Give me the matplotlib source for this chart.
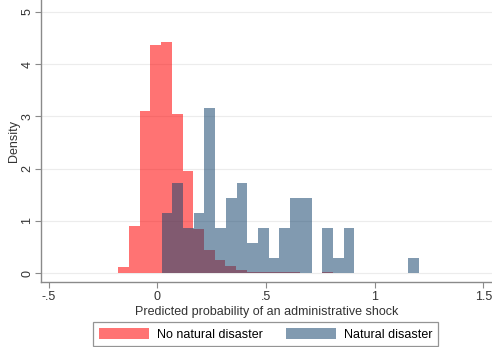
import numpy as np
import matplotlib.pyplot as plt
from matplotlib.patches import Patch

plt.rcParams['font.family'] = ['Liberation Sans', 'DejaVu Sans']

# histogram densities
bin_width = 0.0493
no_disaster_start = -0.180
no_disaster = [0.11, 0.90, 3.10, 4.36, 4.42, 3.04, 1.95, 0.84, 0.45, 0.25,
               0.13, 0.06, 0.03, 0.03, 0.02, 0.03, 0.02, 0.0, 0.0, 0.02]
disaster_start = 0.019
disaster = [1.15, 1.72, 0.86, 1.15, 3.16, 0.86, 1.43, 1.72, 0.57, 0.86,
            0.29, 0.86, 1.43, 1.43, 0.0, 0.86, 0.29, 0.86, 0.0, 0.0,
            0.0, 0.0, 0.0, 0.29]

x_ticks = [-0.5, 0, 0.5, 1, 1.5]
x_tick_labels = ['-.5', '0', '.5', '1', '1.5']
y_ticks = [0, 1, 2, 3, 4, 5]

red = '#ff0000'
navy = '#1a476f'

fig = plt.figure(figsize=(4.92, 3.47), dpi=100)
ax = fig.add_axes([0.0833, 0.1873, 0.9167, 0.8127])

red_edges = no_disaster_start + bin_width * np.arange(len(no_disaster))
blue_edges = disaster_start + bin_width * np.arange(len(disaster))
ax.bar(red_edges, no_disaster, width=bin_width, align='edge', color=red, alpha=0.55, linewidth=0)
ax.bar(blue_edges, disaster, width=bin_width, align='edge', color=navy, alpha=0.55, linewidth=0)

ax.set_xlim(-0.536, 1.54)
ax.set_ylim(-0.17, 5.23)
ax.set_xticks(x_ticks)
ax.set_xticklabels(x_tick_labels)
ax.set_yticks(y_ticks)
ax.set_yticklabels([str(v) for v in y_ticks], rotation=90, va='center')
ax.grid(axis='y', color='#ececec', linewidth=0.8)
ax.set_axisbelow(True)

for side in ['top', 'right']:
    ax.spines[side].set_visible(False)
for side in ['left', 'bottom']:
    ax.spines[side].set_color('#8a8a8a')
    ax.spines[side].set_linewidth(1.0)
ax.tick_params(colors='#8a8a8a', labelcolor='#333333', labelsize=9, length=4, width=0.8, pad=2.5)
ax.tick_params(axis='y', pad=1.5)

ax.set_xlabel('Predicted probability of an administrative shock', fontsize=9, color='#333333', labelpad=2)
ax.set_ylabel('Density', fontsize=9, color='#333333', labelpad=1)

handles = [Patch(facecolor=red, alpha=0.55, edgecolor='none'),
           Patch(facecolor=navy, alpha=0.55, edgecolor='none')]
leg = fig.legend(handles, ['No natural disaster', 'Natural disaster'], ncol=2,
                 loc='upper center', bbox_to_anchor=(0.54, 0.072), fontsize=9,
                 frameon=True, fancybox=False, handlelength=4.0, handleheight=1.0,
                 columnspacing=1.8, borderpad=0.45, borderaxespad=0,
                 handletextpad=0.65)
leg.get_frame().set_edgecolor('#7a7a7a')
leg.get_frame().set_linewidth(0.9)

fig.savefig('out.png', dpi=100)
